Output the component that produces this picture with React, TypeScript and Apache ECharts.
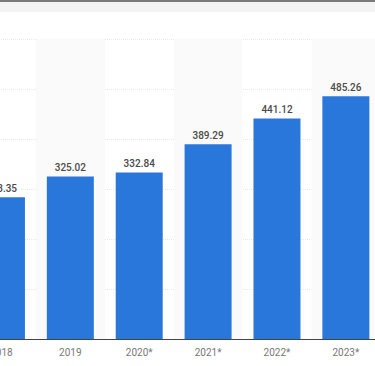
import React, { useEffect, useRef } from "react";
import * as echarts from "echarts";

const categories = ["2018", "2019", "2020*", "2021*", "2022*", "2023*"];
const values = [283.35, 325.02, 332.84, 389.29, 441.12, 485.26];
const yMin = 0;
const yMax = 600;
const yInterval = 100;

export default function App() {
  const ref = useRef<HTMLDivElement>(null);

  useEffect(() => {
    document.body.style.margin = "0";
    document.body.style.overflow = "hidden";
    const chart = echarts.init(ref.current!, null, { renderer: "svg" });
    chart.setOption({
      animation: false,
      grid: { left: 67, width: 413.3, top: 39, bottom: 27, containLabel: false },
      xAxis: {
        type: "category",
        data: categories,
        axisLine: { lineStyle: { color: "#444", width: 1 } },
        axisTick: { show: false },
        axisLabel: { color: "#777", fontSize: 10, margin: 8, fontFamily: "Roboto" },
        splitArea: { show: true, areaStyle: { color: ["rgba(255,255,255,0)", "#fafafa"] } },
      },
      yAxis: {
        type: "value",
        min: yMin,
        max: yMax,
        interval: yInterval,
        axisLabel: { show: false },
        axisLine: { show: false },
        axisTick: { show: false },
        splitLine: { lineStyle: { color: "#e8e8e8", type: "dotted", width: 1 } },
      },
      series: [
        {
          type: "bar",
          data: values,
          barWidth: 47,
          itemStyle: { color: "#2a77dc" },
          label: {
            show: true,
            position: "top",
            distance: 4,
            color: "#4a4a4a",
            fontSize: 10,
            fontWeight: 500,
            fontFamily: "Roboto",
            formatter: (p: any) => p.value.toFixed(2),
          },
        },
      ],
    });
    return () => chart.dispose();
  }, []);

  return (
    <div style={{ position: "relative", width: 375, height: 366, overflow: "hidden", background: "#fff" }}>
      <div ref={ref} style={{ position: "absolute", left: -100, top: 0, width: 600, height: 366 }} />
      <div style={{ position: "absolute", left: 0, top: 0, width: 375, height: 2, background: "#7a7a7a" }} />
      <div style={{ position: "absolute", left: 0, top: 2, width: 375, height: 10, background: "#f4f4f4" }} />
    </div>
  );
}
